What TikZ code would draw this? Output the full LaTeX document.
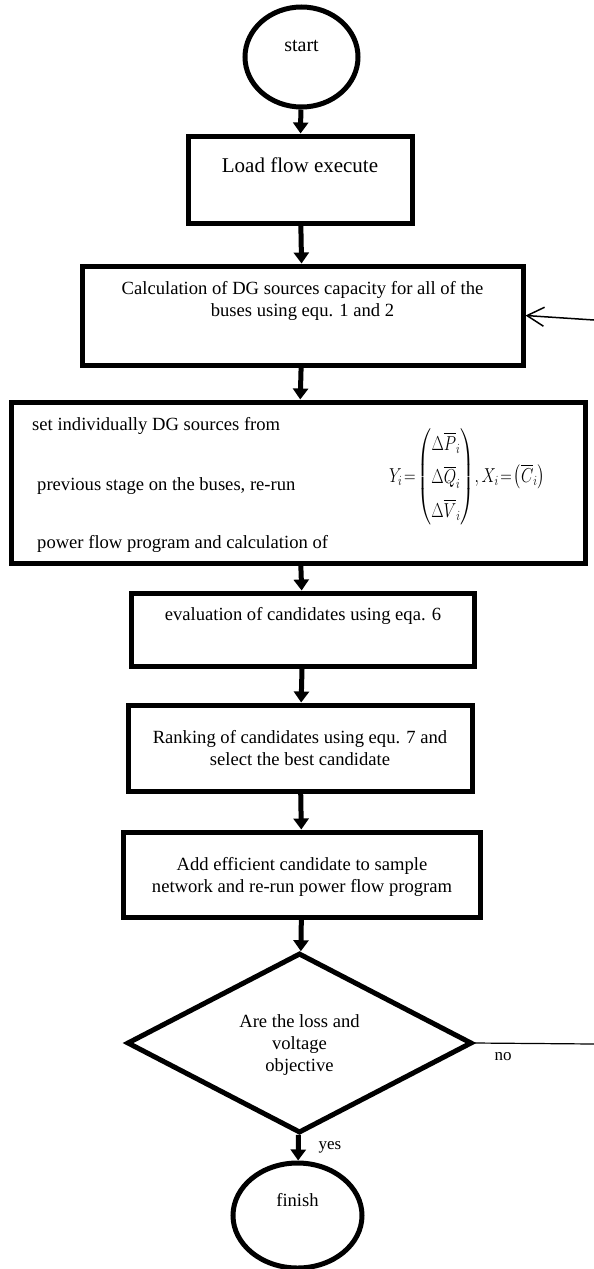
\documentclass[tikz,border=0pt]{standalone}
\usepackage{fontspec}
\setmainfont{Liberation Serif}
\usepackage{amsmath}
\usetikzlibrary{arrows.meta}
\usetikzlibrary{shapes.geometric}

\begin{document}
\begin{tikzpicture}[x=1pt,y=-1pt]
	\useasboundingbox (0,0) rectangle (594,1269);

	% outlines
	\begin{scope}[every node/.style={draw=black, line width=5pt, inner sep=0pt}]
		\node[ellipse, minimum width=113, minimum height=100] (start) at (301.5,57) {};
		\node[rectangle, minimum width=224, minimum height=87] (load) at (300,179.5) {};
		\node[rectangle, minimum width=441, minimum height=99] (calc) at (302.5,315.5) {};
		\node[rectangle, minimum width=574, minimum height=161] (set) at (298,482.5) {};
		\node[rectangle, minimum width=343, minimum height=73] (eval) at (303,629.5) {};
		\node[rectangle, minimum width=344, minimum height=86] (rank) at (300,748) {};
		\node[rectangle, minimum width=357, minimum height=85] (add) at (302,874.5) {};
		\node[diamond, minimum width=345, minimum height=180] (check) at (299.5,1043) {};
		\node[ellipse, minimum width=129, minimum height=105] (finish) at (297.5,1215.5) {};
	\end{scope}

	% texts
	\begin{scope}[every node/.style={font=\fontsize{18.6}{22}\selectfont, align=center, inner sep=0pt}]
		\node (starttext) at (301.5,45.5) {\fontsize{20}{24}\selectfont start};
		\node (loadtext) at (300,165) {\fontsize{21}{25}\selectfont Load flow execute};
		\node (calctext) at (302.5,301) {Calculation of DG sources capacity for all of the\\ buses using equ. 1 and 2};
		\node[anchor=base west] (set1) at (32,430) {set individually DG sources from};
		\node[anchor=base west] (set2) at (37,490) {previous stage on the buses, re-run};
		\node[anchor=base west] (set3) at (37,548) {power flow program and calculation of};
		\node (setmath) at (467,477) {\resizebox*{156pt}{100pt}{\renewcommand{\arraystretch}{1.3}%
			$Y_i\!=\!\begin{pmatrix}\Delta\overline{P}_i\\ \Delta\overline{Q}_i\\ \Delta\overline{V}_i\end{pmatrix}\!,X_i\!=\!\left(\overline{C}_i\right)$}};
		\node[anchor=base] (evaltext) at (303,620) {evaluation of candidates using eqa. 6};
		\node (ranktext) at (300,748.5) {Ranking of candidates using equ. 7 and\\ select the best candidate};
		\node (addtext) at (302,876.5) {Add efficient candidate to sample\\ network and re-run power flow program};
		\node (checktext) at (299.5,1045) {Are the loss and\\ voltage\\ objective};
		\node (finishtext) at (297.5,1200) {finish};
		\node (yes) at (330,1147) {\fontsize{17}{20}\selectfont yes};
		\node (no) at (503,1057) {\fontsize{17}{20}\selectfont no};
	\end{scope}

	\coordinate (back) at (594,320);
	\coordinate (noend) at (594,1044);

	% connectors
	\begin{scope}[>={Triangle[length=11pt,width=15pt]},
	              every edge/.style={draw=black, line width=5pt, ->}]
		\path (start) edge (load);
		\path (load) edge (calc);
		\path (calc) edge (set);
		\path (set) edge (eval);
		\path (eval) edge (rank);
		\path (rank) edge (add);
		\path (add) edge (check);
		\path (check) edge (finish);
	\end{scope}
	\draw[line width=1.5pt, -{Straight Barb[length=17pt,width=19pt]}] (back) -- (calc.east);
	\draw[line width=1.2pt] (check.east) -- (noend);
\end{tikzpicture}
\end{document}
